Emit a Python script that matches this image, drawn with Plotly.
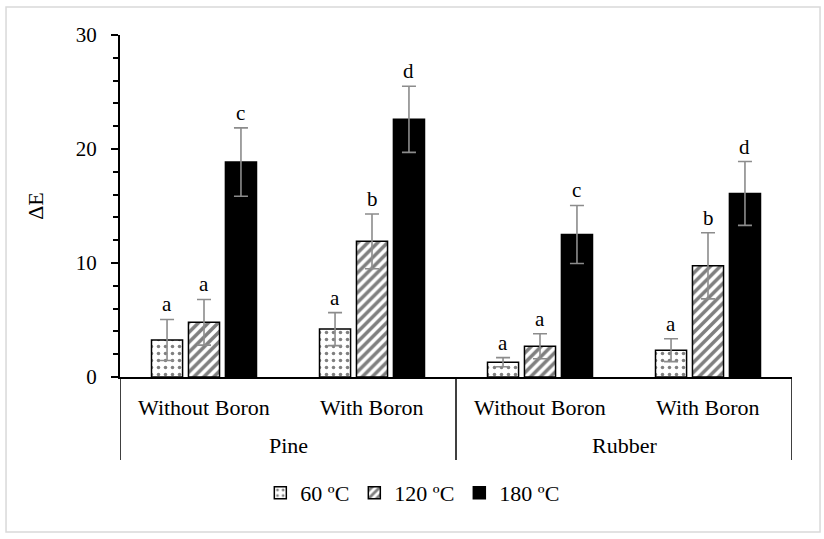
import plotly.graph_objects as go

species = ["Pine", "Pine", "Rubber", "Rubber"]
treatments = ["Without Boron", "With Boron", "Without Boron", "With Boron"]
species_groups = ["Pine", "Rubber"]
temps = ["60 ºC", "120 ºC", "180 ºC"]

values = {
    "60 ºC": [3.25, 4.2, 1.3, 2.35],
    "120 ºC": [4.8, 11.9, 2.7, 9.75],
    "180 ºC": [18.85, 22.6, 12.5, 16.1],
}
errors = {
    "60 ºC": [1.8, 1.45, 0.4, 1.0],
    "120 ºC": [2.0, 2.4, 1.1, 2.9],
    "180 ºC": [3.0, 2.9, 2.55, 2.8],
}
letters = {
    "60 ºC": ["a", "a", "a", "a"],
    "120 ºC": ["a", "b", "a", "b"],
    "180 ºC": ["c", "d", "c", "d"],
}

FONT = "Liberation Serif"
bar_width = 0.185
centers = {"60 ºC": -0.22, "120 ºC": 0.0, "180 ºC": 0.22}
patterns = {
    "60 ºC": dict(shape=".", fgcolor="black", bgcolor="white", size=7, solidity=0.2, fillmode="overlay"),
    "120 ºC": dict(shape="/", fgcolor="black", bgcolor="white", size=7, solidity=0.5, fillmode="overlay"),
    "180 ºC": None,
}

fig = go.Figure()
for t in temps:
    marker = dict(color="black" if t == "180 ºC" else "white",
                  line=dict(color="black", width=1.5))
    if patterns[t] is not None:
        marker["pattern"] = patterns[t]
    fig.add_trace(go.Bar(
        x=[species, treatments],
        y=values[t],
        name=t,
        width=bar_width,
        offset=centers[t] - bar_width / 2,
        marker=marker,
        error_y=dict(type="data", array=errors[t], visible=True,
                     color="#8c8c8c", thickness=1.6, width=7),
    ))

# significance letters
for t in temps:
    for i, (v, e, L) in enumerate(zip(values[t], errors[t], letters[t])):
        fig.add_annotation(x=i + centers[t], y=v + e, text=L, showarrow=False,
                           yanchor="middle", yshift=15,
                           font=dict(family=FONT, size=21, color="black"))

# two-level category labels
for i, lab in enumerate(treatments):
    fig.add_annotation(x=i, xref="x", y=-0.088, yref="paper", text=lab, showarrow=False,
                       yanchor="middle", font=dict(family=FONT, size=22, color="black"))
for j, lab in enumerate(species_groups):
    fig.add_annotation(x=2 * j + 0.5, xref="x", y=-0.199, yref="paper", text=lab, showarrow=False,
                       yanchor="middle", font=dict(family=FONT, size=22, color="black"))
# dividers
for xb in [-0.5, 1.5, 3.5]:
    fig.add_shape(type="line", xref="x", yref="paper", x0=xb, x1=xb, y0=0, y1=-0.2427,
                  line=dict(color="black", width=1.5))

fig.update_layout(
    width=824, height=539,
    margin=dict(l=120, r=32, t=35, b=162),
    paper_bgcolor="white", plot_bgcolor="white",
    barmode="overlay",
    font=dict(family=FONT, size=21, color="black"),
    showlegend=True,
    legend=dict(orientation="h", x=0.435, xanchor="center", y=-0.339, yanchor="middle",
                font=dict(family=FONT, size=22), itemwidth=30, traceorder="normal"),
    xaxis=dict(type="multicategory", showline=True, linecolor="black", linewidth=1.5,
               ticks="", showgrid=False, zeroline=False, showticklabels=False,
               showdividers=False, range=[-0.5, 3.5]),
    yaxis=dict(range=[0, 30], dtick=10, showline=True, linecolor="black", linewidth=2,
               ticks="outside", ticklen=7, tickwidth=1.5, tickcolor="black",
               showgrid=False, zeroline=False,
               minor=dict(dtick=2, ticks="outside", ticklen=5, tickwidth=1.5, tickcolor="black"),
               tickfont=dict(family=FONT, size=21, color="black"),
               ticklabelstandoff=10,
               title=dict(text="ΔE", standoff=26, font=dict(family=FONT, size=22))),
)

fig.add_shape(type="rect", xref="paper", yref="paper",
              x0=-0.1696, x1=1.0417, y0=-0.4532, y1=1.0819,
              line=dict(color="#d9d9d9", width=1.5), fillcolor="rgba(0,0,0,0)", layer="below")

fig.write_html("out.html")
